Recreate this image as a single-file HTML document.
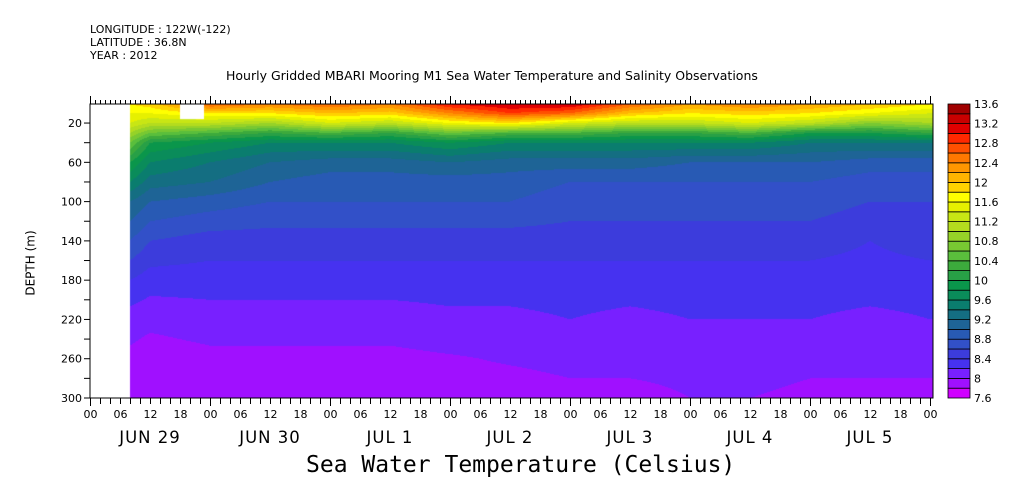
<!DOCTYPE html>
<html><head><meta charset="utf-8"><style>
body{margin:0;background:#fff;}
#wrap{position:relative;width:1009px;height:504px;overflow:hidden;font-family:"DejaVu Sans","Liberation Sans",sans-serif;}
.t{position:absolute;white-space:nowrap;color:#000;}
</style></head><body>
<div id="wrap">
<div class="t" style="left:90px;top:23px;font-size:11px">LONGITUDE : 122W(-122)</div>
<div class="t" style="left:90px;top:36px;font-size:11px">LATITUDE : 36.8N</div>
<div class="t" style="left:90px;top:49px;font-size:11px">YEAR : 2012</div>
<div class="t" style="left:226px;top:68px;font-size:12.5px">Hourly Gridded MBARI Mooring M1 Sea Water Temperature and Salinity Observations</div>
<div class="t" style="left:-2px;top:256px;font-size:12px;transform:rotate(-90deg);transform-origin:center">DEPTH (m)</div>
<div class="t" style="left:306px;top:452px;font-size:23px;font-family:'DejaVu Sans Mono','Liberation Mono',monospace">Sea Water Temperature (Celsius)</div>
<canvas id="cv" width="1009" height="504" style="position:absolute;left:0;top:0"></canvas>
<svg id="ov" width="1009" height="504" style="position:absolute;left:0;top:0"></svg>
</div>
<script>
const hours=[8,12,24,36,48,60,72,84,96,108,120,132,144,156,168];
const depths=[1,10,20,30,40,60,80,100,140,180,220,260,300];
const temps=[
[11.8,11.9,12.6,12.4,12.6,12.4,13.0,13.2,13.2,12.6,12.2,12.4,12.2,12.0,11.8],
[11.6,11.6,11.8,11.8,12.0,11.9,12.4,12.8,12.6,12.0,11.8,11.9,11.8,11.6,11.4],
[11.4,11.2,11.2,11.0,11.4,11.2,11.6,11.8,11.4,11.2,11.2,11.4,11.2,10.8,11.0],
[11.0,10.6,10.4,10.2,10.4,10.2,10.6,10.4,10.4,10.2,10.2,10.4,10.0,10.0,10.2],
[10.6,10.0,9.8,9.6,9.6,9.6,9.8,9.6,9.6,9.6,9.6,9.6,9.4,9.4,9.4],
[10.0,9.6,9.4,9.2,9.1,9.1,9.2,9.1,9.1,9.1,9.0,9.0,9.0,8.9,8.9],
[9.6,9.3,9.2,9.0,8.9,8.9,8.9,8.9,8.8,8.8,8.8,8.8,8.8,8.7,8.7],
[9.2,9.0,8.9,8.8,8.8,8.8,8.8,8.8,8.7,8.7,8.7,8.7,8.7,8.6,8.6],
[8.8,8.6,8.5,8.5,8.5,8.5,8.5,8.5,8.5,8.5,8.5,8.5,8.5,8.4,8.5],
[8.4,8.3,8.3,8.3,8.3,8.3,8.3,8.3,8.3,8.3,8.3,8.3,8.3,8.3,8.3],
[8.1,8.05,8.1,8.1,8.1,8.1,8.15,8.15,8.2,8.15,8.2,8.2,8.2,8.15,8.2],
[7.95,7.9,7.95,7.95,7.95,7.95,7.98,8.02,8.05,8.05,8.05,8.1,8.05,8.05,8.05],
[7.85,7.8,7.85,7.9,7.85,7.9,7.9,7.9,7.95,7.95,8.0,8.0,7.95,7.95,7.95]];
const levels=[7.6,7.8,8,8.2,8.4,8.6,8.8,9,9.2,9.4,9.6,9.8,10,10.2,10.4,10.6,10.8,11,11.2,11.4,11.6,11.8,12,12.2,12.4,12.6,12.8,13,13.2,13.4,13.6];
const colors=["#d000ff","#a010ff","#7820ff","#4632f0","#3c3cdc","#3250c8","#285ab4","#1e6496","#146e82","#0a7d6e","#0a8c5a","#0a964b","#28a046","#3caa3c","#5abe3c","#78c832","#96d228","#b4dc1e","#c8e614","#e6f000","#ffff00","#ffd200","#ffb400","#ff9600","#ff7800","#ff5000","#ff2800","#e00000","#c80000","#a00000"];
const cbLabels=["7.6","8","8.4","8.8","9.2","9.6","10","10.4","10.8","11.2","11.6","12","12.4","12.8","13.2","13.6"];
const dayLabels=["JUN 29","JUN 30","JUL  1","JUL  2","JUL  3","JUL  4","JUL  5"];
const yLabels=[20,60,100,140,180,220,260,300];
const X0=90,X1=933,Y0=104,Y1=398;
const xs=h=>X0+h*5;
const ys=d=>Y0+(d-0.6)*(Y1-Y0)/299.4;
const dOf=y=>0.6+(y-Y0)*299.4/(Y1-Y0);
const hOf=x=>(x-X0)/5;
function interp(arr,v){let i=0;while(i<arr.length-2&&v>arr[i+1])i++;let f=(v-arr[i])/(arr[i+1]-arr[i]);return [i,Math.max(0,Math.min(1,f))];}
const ctx=document.getElementById('cv').getContext('2d');
for(let y=Y0;y<Y1;y++){for(let x=Math.round(xs(hours[0]));x<X1;x++){
 const [ti,tf]=interp(hours,hOf(x+0.5));const [di,df]=interp(depths,dOf(y+0.5));
 const v=(temps[di][ti]*(1-tf)+temps[di][ti+1]*tf)*(1-df)+(temps[di+1][ti]*(1-tf)+temps[di+1][ti+1]*tf)*df;
 let k=Math.floor((v-levels[0])/0.2);k=Math.max(0,Math.min(colors.length-1,k));
 ctx.fillStyle=colors[k];ctx.fillRect(x,y,1,1);}}
ctx.fillStyle="#fff";ctx.fillRect(xs(18),Y0,xs(22.8)-xs(18),ys(16)-Y0);
const CBx=948,CBw=22;
const cbY=v=>Y1-(v-7.6)*(Y1-Y0)/6;
const sv=document.getElementById('ov');const NS="http://www.w3.org/2000/svg";
function el(t,a,txt){const e=document.createElementNS(NS,t);for(const k in a)e.setAttribute(k,a[k]);if(txt!==undefined)e.textContent=txt;sv.appendChild(e);return e;}
for(let i=0;i<colors.length;i++){const r=el('rect',{x:CBx,y:cbY(levels[i+1]),width:CBw,height:cbY(levels[i])-cbY(levels[i+1]),fill:colors[i],stroke:'#000','stroke-width':0.8});
}
cbLabels.forEach(l=>{const t=el('text',{x:CBx+CBw+4,y:cbY(parseFloat(l))+4,'font-size':11,'font-family':'DejaVu Sans,Liberation Sans,sans-serif'},l);
});
const fr=el('rect',{x:X0,y:Y0,width:X1-X0,height:Y1-Y0,fill:'none',stroke:'#000','stroke-width':1});

for(let h=0;h<=168;h++){const x=xs(h)+0.5;const L=(h%24==0)?8:4;
 el('line',{x1:x,x2:x,y1:Y0,y2:Y0-L,stroke:'#000'});
 if(h%2==0){el('line',{x1:x,x2:x,y1:Y1,y2:Y1+((h%24==0)?8:6),stroke:'#000'});}
 if(h%6==0){const t=el('text',{x:x,y:418,'font-size':11,'text-anchor':'middle','font-family':'DejaVu Sans,Liberation Sans,sans-serif'},String(h%24).padStart(2,'0'));
 }}
dayLabels.forEach((d,i)=>{const t=el('text',{x:xs(i*24+12),y:443,'font-size':16.5,'text-anchor':'middle','letter-spacing':'1','font-family':'DejaVu Sans,Liberation Sans,sans-serif','xml:space':'preserve'},d);
});
for(let d=20;d<=300;d+=20){const y=ys(d);el('line',{x1:X0,x2:X0-6,y1:y,y2:y,stroke:'#000'});}
yLabels.forEach(d=>{const t=el('text',{x:X0-8,y:ys(d)+4,'font-size':11,'text-anchor':'end','font-family':'DejaVu Sans,Liberation Sans,sans-serif'},String(d));
});
</script>
</body></html>
